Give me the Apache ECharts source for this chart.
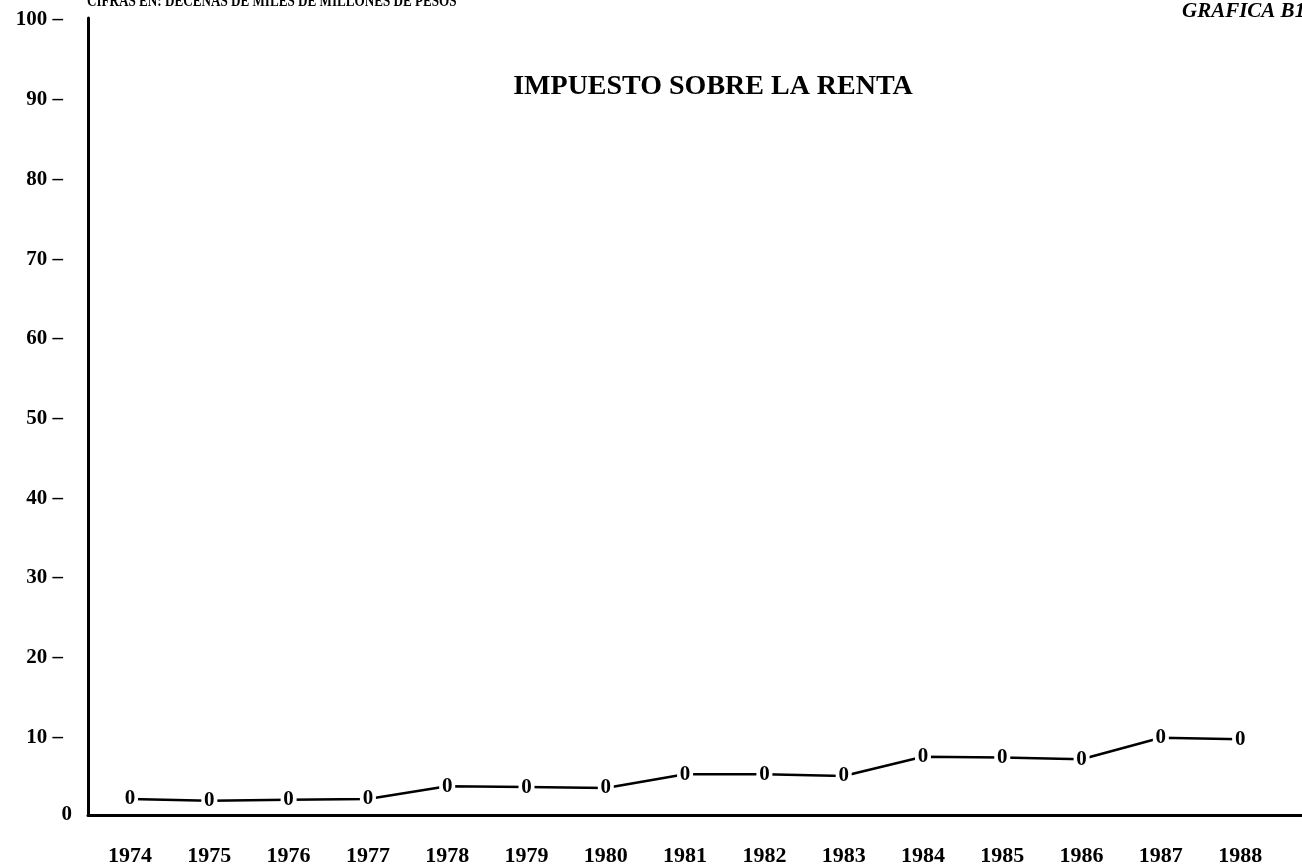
<!DOCTYPE html>
<html>
<head>
<meta charset="utf-8">
<script src="https://cdn.jsdelivr.net/npm/echarts@6/dist/echarts.min.js"></script>
<style>
  html, body { margin: 0; padding: 0; background: #fff; }
  #myChart { width: 1302px; height: 867px; }
</style>
</head>
<body>
<div id="myChart"></div>
<script>
  // datos (decenas de miles de millones de pesos)
  var years = [1974, 1975, 1976, 1977, 1978, 1979, 1980, 1981, 1982, 1983, 1984, 1985, 1986, 1987, 1988];
  var isr = [2.0, 1.8, 1.9, 2.0, 3.6, 3.5, 3.4, 5.1, 5.1, 4.9, 7.3, 7.2, 7.0, 9.7, 9.5];
  var yTicks = [0, 10, 20, 30, 40, 50, 60, 70, 80, 90, 100];

  var serif = '"Liberation Serif", "DejaVu Serif", serif';

  var points = years.map(function (y, i) { return [y, isr[i]]; });

  var option = {
    backgroundColor: '#fff',
    animation: false,
    textStyle: { fontFamily: serif, color: '#000' },
    title: {
      text: 'IMPUESTO SOBRE LA RENTA',
      left: 708, top: 68, textAlign: 'center',
      textStyle: { fontFamily: serif, fontSize: 28, fontWeight: 'bold', color: '#000' }
    },
    graphic: [
      {
        type: 'text', x: 87, y: -6, scaleX: 0.82,
        style: {
          text: 'CIFRAS EN: DECENAS DE MILES DE MILLONES DE PESOS',
          fontFamily: serif, fontSize: 16, fontWeight: 'bold', fill: '#000'
        }
      },
      {
        type: 'text', x: 1182, y: 1,
        style: {
          text: 'GRAFICA B1',
          fontFamily: serif, fontSize: 21, fontWeight: 'bold', fontStyle: 'italic', fill: '#000'
        }
      }
    ],
    grid: { left: 88, right: 0, top: 18, bottom: 51, containLabel: false },
    xAxis: {
      type: 'value',
      min: 1973.47,
      max: 1988.78,
      splitLine: { show: false },
      axisTick: { show: false },
      axisLine: { show: true, lineStyle: { color: '#000', width: 3 } },
      axisLabel: {
        customValues: years,
        margin: 30,
        fontFamily: serif, fontSize: 22, fontWeight: 'bold', color: '#000',
        formatter: function (v) { return String(Math.round(v)); }
      }
    },
    yAxis: {
      type: 'value',
      min: 0, max: 100, interval: 10,
      splitLine: { show: false },
      axisTick: { show: false },
      axisLine: { show: true, lineStyle: { color: '#000', width: 3 } },
      axisLabel: {
        customValues: yTicks,
        margin: 16,
        formatter: function (v) { return v === 0 ? '{z|0}' : '{a|' + v + ' –}'; },
        rich: {
          a: { fontFamily: serif, fontSize: 21, fontWeight: 'bold', color: '#000', padding: [4, 9, 0, 0] },
          z: { fontFamily: serif, fontSize: 21, fontWeight: 'bold', color: '#000', padding: [0, 0, 0, 0] }
        }
      }
    },
    series: [
      {
        name: 'ISR',
        type: 'line',
        data: points,
        lineStyle: { color: '#000', width: 2.5 },
        symbol: 'rect',
        symbolSize: [16, 20],
        itemStyle: { color: '#fff', borderWidth: 0 },
        label: {
          show: true,
          position: 'inside',
          formatter: '0',
          fontFamily: serif, fontSize: 21, fontWeight: 'bold', color: '#000'
        },
        z: 3
      }
    ]
  };

  var myChart = echarts.init(document.getElementById('myChart'));
  myChart.setOption(option);
</script>
</body>
</html>
